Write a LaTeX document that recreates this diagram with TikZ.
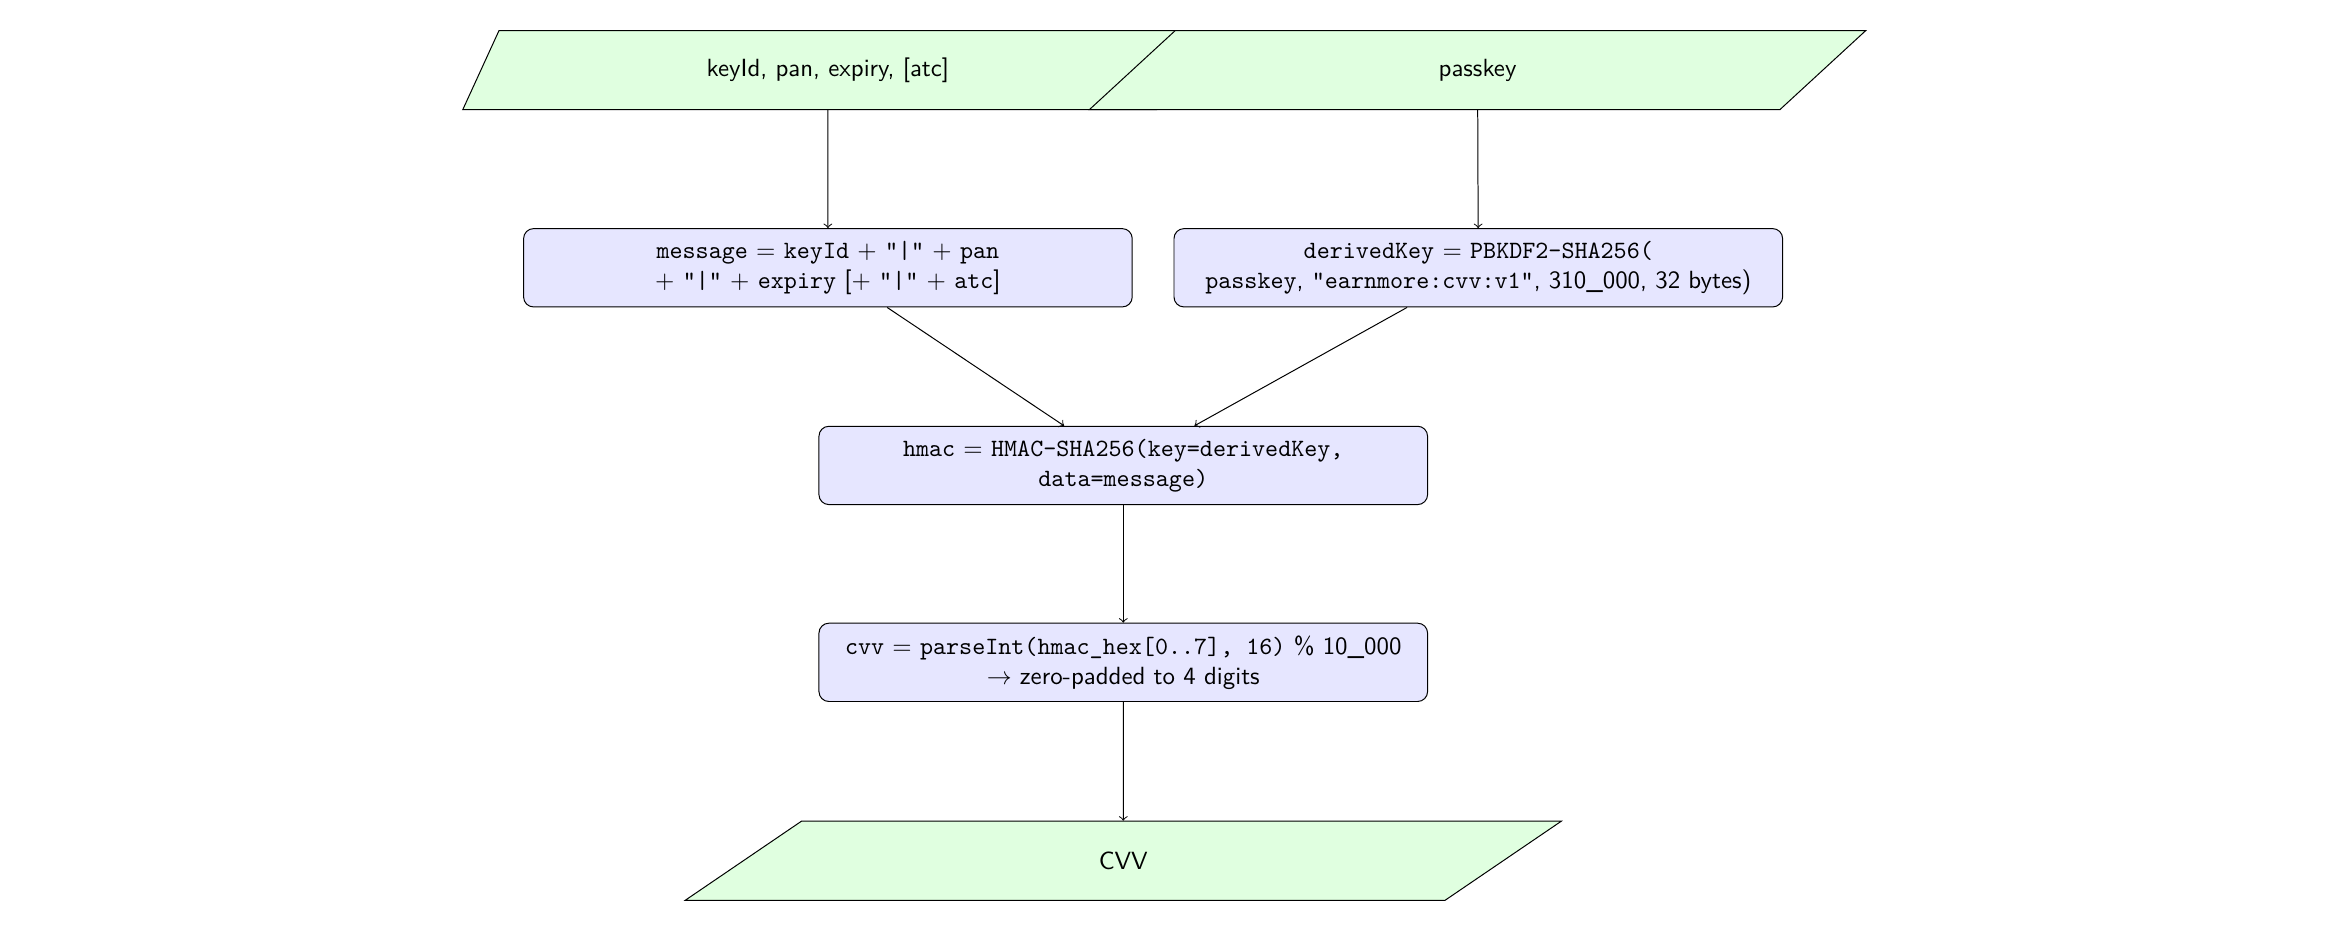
\documentclass[tikz,border=0pt]{standalone}
\usetikzlibrary{shapes.geometric}
\definecolor{iogreen}{RGB}{224,255,224}
\definecolor{stepblue}{RGB}{230,230,255}

\begin{document}
\begin{tikzpicture}[x=0.6pt, y=-0.6pt, font=\sffamily,
  io/.style = {draw, fill=iogreen, trapezium, trapezium left angle=71, trapezium right angle=109, trapezium stretches=true, minimum height=31.8pt},
  proc/.style = {draw, fill=stepblue, rounded corners=4pt, align=center, minimum width=244.8pt, minimum height=31.5pt}]
\useasboundingbox (0,0) rectangle (1568,624);
\node[io, minimum width=294pt] (in1) at (555,47) {keyId, pan, expiry, [atc]};
\node[io, minimum width=312.6pt] (in2) at (990.5,47) {passkey};
\node[proc] (msg) at (555,179.5) {\texttt{message} = \texttt{keyId} + \texttt{"|"} + \texttt{pan}\\+ \texttt{"|"} + \texttt{expiry} [+ \texttt{"|"} + \texttt{atc}]};
\node[proc] (dk) at (991,179.5) {\texttt{derivedKey} = \texttt{PBKDF2-SHA256(}\\\texttt{passkey}, \texttt{"earnmore:cvv:v1"}, 310\_000, 32 bytes)};
\node[proc] (hmac) at (753,312) {\texttt{hmac} = \texttt{HMAC-SHA256(key=derivedKey,}\\\texttt{data=message)}};
\node[proc] (cvv) at (753,444) {\texttt{cvv} = \texttt{parseInt(hmac\_hex[0..7], 16)} \% 10\_000\\$\rightarrow$ zero-padded to 4 digits};
\node[io, minimum width=352.8pt] (out) at (753,577) {CVV};
\draw[->] (in1) -- (msg);
\draw[->] (in2) -- (dk);
\draw[->] (msg) -- (hmac);
\draw[->] (dk) -- (hmac);
\draw[->] (hmac) -- (cvv);
\draw[->] (cvv) -- (out);
\end{tikzpicture}
\end{document}
